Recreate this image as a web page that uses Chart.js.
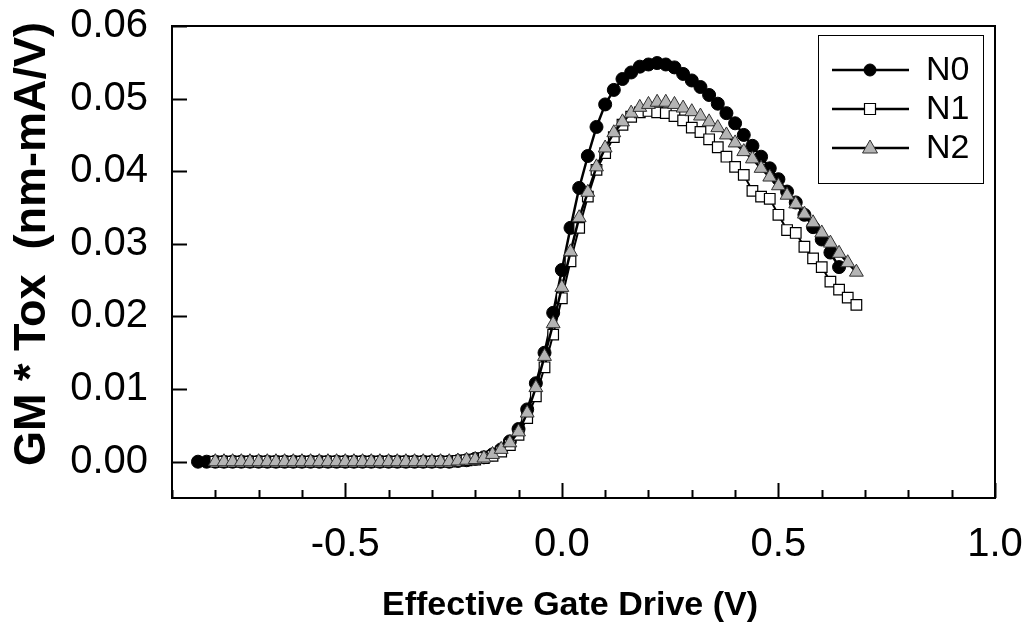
<!DOCTYPE html>
<html>
<head>
<meta charset="utf-8">
<script src="https://cdn.jsdelivr.net/npm/chart.js@4.4.1/dist/chart.umd.min.js"></script>
<style>
  html, body { margin: 0; padding: 0; background: #ffffff; }
  #wrap { width: 1027px; height: 635px; position: relative; }
</style>
</head>
<body>
<div id="wrap"><canvas id="gm-chart"></canvas></div>
<script>
// Effective gate drive (V) for each sample
const driveN0 = [-0.84, -0.82, -0.80, -0.78, -0.76, -0.74, -0.72, -0.70, -0.68, -0.66,
                 -0.64, -0.62, -0.60, -0.58, -0.56, -0.54, -0.52, -0.50, -0.48, -0.46,
                 -0.44, -0.42, -0.40, -0.38, -0.36, -0.34, -0.32, -0.30, -0.28, -0.26,
                 -0.24, -0.22, -0.20, -0.18, -0.16, -0.14, -0.12, -0.10, -0.08, -0.06,
                 -0.04, -0.02, 0.00, 0.02, 0.04, 0.06, 0.08, 0.10, 0.12, 0.14,
                 0.16, 0.18, 0.20, 0.22, 0.24, 0.26, 0.28, 0.30, 0.32, 0.34,
                 0.36, 0.38, 0.40, 0.42, 0.44, 0.46, 0.48, 0.50, 0.52, 0.54,
                 0.56, 0.58, 0.60, 0.62, 0.64];
const driveN12 = [-0.80, -0.78, -0.76, -0.74, -0.72, -0.70, -0.68, -0.66, -0.64, -0.62,
                  -0.60, -0.58, -0.56, -0.54, -0.52, -0.50, -0.48, -0.46, -0.44, -0.42,
                  -0.40, -0.38, -0.36, -0.34, -0.32, -0.30, -0.28, -0.26,
                  -0.24, -0.22, -0.20, -0.18, -0.16, -0.14, -0.12, -0.10, -0.08, -0.06,
                  -0.04, -0.02, 0.00, 0.02, 0.04, 0.06, 0.08, 0.10, 0.12, 0.14,
                  0.16, 0.18, 0.20, 0.22, 0.24, 0.26, 0.28, 0.30, 0.32, 0.34,
                  0.36, 0.38, 0.40, 0.42, 0.44, 0.46, 0.48, 0.50, 0.52, 0.54,
                  0.56, 0.58, 0.60, 0.62, 0.64, 0.66, 0.68];

// GM * Tox (nm-mA/V)
const gmN0 = [0, 0, 0, 0, 0, 0, 0, 0, 0, 0,
              0, 0, 0, 0, 0, 0, 0, 0, 0, 0,
              0, 0, 0, 0, 0, 0, 0, 0, 0, 0,
              0.0001, 0.0002, 0.0004, 0.0006, 0.0010, 0.0017, 0.0028, 0.0045, 0.0072, 0.0108,
              0.0150, 0.0205, 0.0264, 0.0322, 0.0377, 0.0421, 0.0461, 0.0492, 0.0512, 0.0527,
              0.0536, 0.0544, 0.0547, 0.0549, 0.0547, 0.0543, 0.0534, 0.0525, 0.0516, 0.0505,
              0.0493, 0.0480, 0.0466, 0.0450, 0.0435, 0.0420, 0.0404, 0.0389, 0.0372, 0.0357,
              0.0340, 0.0323, 0.0306, 0.0288, 0.0268];
const gmN1 = [0, 0, 0, 0, 0, 0, 0, 0, 0, 0,
              0, 0, 0, 0, 0, 0, 0, 0, 0, 0,
              0, 0, 0, 0, 0, 0, 0, 0,
              0.0001, 0.0002, 0.0003, 0.0005, 0.0008, 0.0014, 0.0023, 0.0037, 0.0060, 0.0090,
              0.0130, 0.0175, 0.0225, 0.0276, 0.0322, 0.0365, 0.0402, 0.0425, 0.0447, 0.0464,
              0.0475, 0.0481, 0.0483, 0.0481, 0.0480, 0.0476, 0.0470, 0.0460, 0.0454, 0.0444,
              0.0433, 0.0420, 0.0406, 0.0395, 0.0373, 0.0365, 0.0362, 0.0340, 0.0319, 0.0315,
              0.0296, 0.0280, 0.0268, 0.0248, 0.0237, 0.0226, 0.0216];
const gmN2 = [0, 0, 0, 0, 0, 0, 0, 0, 0, 0,
              0, 0, 0, 0, 0, 0, 0, 0, 0, 0,
              0, 0, 0, 0, 0, 0, 0, 0,
              0.0001, 0.0002, 0.0003, 0.0005, 0.0010, 0.0017, 0.0026, 0.0041, 0.0067, 0.0102,
              0.0145, 0.0190, 0.0240, 0.0289, 0.0336, 0.0371, 0.0406, 0.0432, 0.0453, 0.0468,
              0.0480, 0.0488, 0.0492, 0.0495, 0.0495, 0.0492, 0.0487, 0.0482, 0.0476, 0.0468,
              0.0460, 0.0450, 0.0439, 0.0427, 0.0417, 0.0404, 0.0392, 0.0380, 0.0367, 0.0355,
              0.0341, 0.0329, 0.0315, 0.0301, 0.0287, 0.0274, 0.0261];

const seriesNames = ['N0', 'N1', 'N2'];
const xTitle = 'Effective Gate Drive (V)';
const yTitle = 'GM * Tox  (nm-mA/V)';

const FONT = "'Liberation Sans', Arial, Helvetica, sans-serif";

function toPoints(xs, ys) {
    return xs.map((x, i) => ({ x: x, y: ys[i] }));
}

// scales should not push the plot area around
function noScalePadding(s) {
    s.paddingTop = 0;
    s.paddingBottom = 0;
    s.paddingLeft = 0;
    s.paddingRight = 0;
}

// Draw one legend marker by hand
function drawMarker(ctx, ds, cx, cy) {
    ctx.save();
    ctx.fillStyle = ds.pointBackgroundColor;
    ctx.strokeStyle = ds.pointBorderColor;
    ctx.lineWidth = ds.pointBorderWidth;
    ctx.beginPath();
    if (ds.pointStyle === 'circle') {
        ctx.arc(cx, cy, 6, 0, Math.PI * 2);
    } else if (ds.pointStyle === 'rect') {
        ctx.rect(cx - 5.5, cy - 5.5, 11, 11);
    } else {
        ctx.moveTo(cx, cy - 8);
        ctx.lineTo(cx + 7.5, cy + 5);
        ctx.lineTo(cx - 7.5, cy + 5);
        ctx.closePath();
    }
    ctx.fill();
    ctx.stroke();
    ctx.restore();
}

// Frame and inward ticks
const frameTicks = {
    id: 'frameTicks',
    beforeDatasetsDraw(chart) {
        const { ctx, chartArea: a, scales: { x, y } } = chart;
        ctx.save();
        ctx.strokeStyle = '#000';
        ctx.lineWidth = 2;
        ctx.strokeRect(a.left, a.top, a.right - a.left, a.bottom - a.top);
        ctx.beginPath();
        x.ticks.forEach(t => {
            const px = Math.round(x.getPixelForValue(t.value)) + 0.5;
            const len = t.label !== '' ? 15 : 8;
            ctx.moveTo(px, a.bottom);
            ctx.lineTo(px, a.bottom - len);
        });
        y.ticks.forEach(t => {
            if (t.label === '') return;
            const py = Math.round(y.getPixelForValue(t.value)) + 0.5;
            ctx.moveTo(a.left, py);
            ctx.lineTo(a.left + 15, py);
        });
        ctx.stroke();
        ctx.restore();
    }
};

// Axis titles and boxed legend
const titlesLegend = {
    id: 'titlesLegend',
    afterDraw(chart) {
        const { ctx } = chart;
        ctx.save();
        ctx.fillStyle = '#000';
        ctx.textAlign = 'center';
        ctx.textBaseline = 'middle';
        ctx.font = 'bold 34px ' + FONT;
        ctx.fillText(xTitle, 570, 606);

        ctx.save();
        ctx.font = 'bold 45px ' + FONT;
        ctx.translate(33, 244);
        ctx.rotate(-Math.PI / 2);
        ctx.fillText(yTitle, 0, 0);
        ctx.restore();

        // legend box
        ctx.strokeStyle = '#000';
        ctx.lineWidth = 1;
        ctx.strokeRect(818.5, 35.5, 165, 148);
        ctx.font = '34px ' + FONT;
        ctx.textAlign = 'left';
        const rows = [70, 109, 148];
        chart.data.datasets.forEach((ds, i) => {
            const ly = rows[i];
            ctx.strokeStyle = ds.borderColor;
            ctx.lineWidth = 2.5;
            ctx.beginPath();
            ctx.moveTo(832, ly);
            ctx.lineTo(909, ly);
            ctx.stroke();
            drawMarker(ctx, ds, 870, ly);
            ctx.fillStyle = '#000';
            ctx.fillText(ds.label, 926, ly + 1);
        });
        ctx.restore();
    }
};

const ctx = document.getElementById('gm-chart').getContext('2d');
new Chart(ctx, {
    type: 'line',
    data: {
        datasets: [
            {
                label: seriesNames[0],
                data: toPoints(driveN0, gmN0),
                borderColor: '#000000',
                borderWidth: 2.5,
                pointStyle: 'circle',
                pointRadius: 6.5,
                pointBackgroundColor: '#000000',
                pointBorderColor: '#000000',
                pointBorderWidth: 1,
                order: 3
            },
            {
                label: seriesNames[1],
                data: toPoints(driveN12, gmN1),
                borderColor: '#000000',
                borderWidth: 2,
                pointStyle: 'rect',
                pointRadius: 7.5,
                pointBackgroundColor: '#ffffff',
                pointBorderColor: '#000000',
                pointBorderWidth: 1.2,
                order: 2
            },
            {
                label: seriesNames[2],
                data: toPoints(driveN12, gmN2),
                borderColor: '#000000',
                borderWidth: 2.5,
                pointStyle: 'triangle',
                pointRadius: 8,
                pointBackgroundColor: '#b4b4b4',
                pointBorderColor: '#303030',
                pointBorderWidth: 1,
                order: 1
            }
        ]
    },
    options: {
        responsive: true,
        maintainAspectRatio: false,
        animation: false,
        parsing: false,
        layout: {
            padding: { top: 26, right: 32, left: 0, bottom: 0 }
        },
        elements: {
            line: { tension: 0, fill: false }
        },
        plugins: {
            legend: { display: false },
            tooltip: { enabled: false }
        },
        scales: {
            x: {
                type: 'linear',
                min: -0.9,
                max: 1.0,
                afterFit: s => { s.height = 137; noScalePadding(s); },
                grid: { display: false, drawTicks: false },
                border: { display: false },
                ticks: {
                    stepSize: 0.1,
                    autoSkip: false,
                    maxRotation: 0,
                    padding: 23,
                    color: '#000',
                    font: { family: FONT, size: 40 },
                    callback: function(v) {
                        const r = Math.round(v * 2);
                        return Math.abs(v * 2 - r) < 1e-6 ? (r / 2).toFixed(1) : '';
                    }
                }
            },
            y: {
                type: 'linear',
                min: -0.005,
                max: 0.06,
                afterFit: s => { s.width = 172; noScalePadding(s); },
                grid: { display: false, drawTicks: false },
                border: { display: false },
                ticks: {
                    stepSize: 0.01,
                    autoSkip: false,
                    includeBounds: false,
                    padding: 24,
                    color: '#000',
                    font: { family: FONT, size: 40 },
                    callback: function(v) {
                        return v < -0.001 ? '' : Math.abs(v).toFixed(2);
                    }
                }
            }
        }
    },
    plugins: [frameTicks, titlesLegend]
});
</script>
</body>
</html>
